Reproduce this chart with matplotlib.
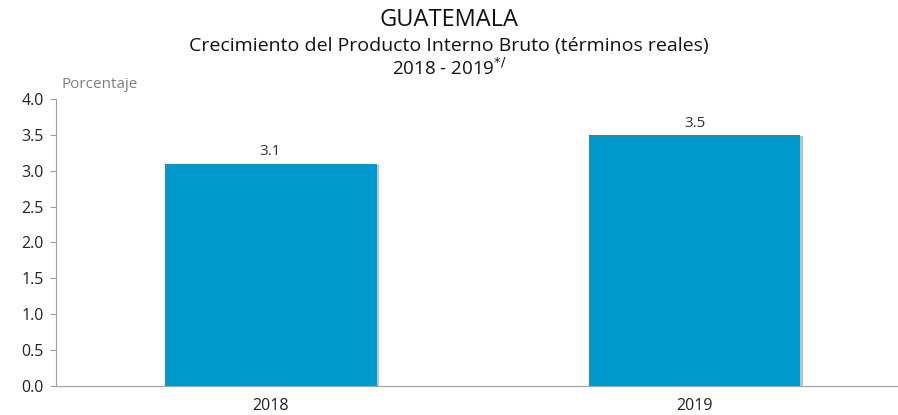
import matplotlib
matplotlib.use("Agg")
import matplotlib.pyplot as plt
import matplotlib.patheffects as pe

# Datos
years = ["2018", "2019"]
growth = [3.1, 3.5]
yticks = [0.0, 0.5, 1.0, 1.5, 2.0, 2.5, 3.0, 3.5, 4.0]

plt.rcParams['font.family'] = ['Open Sans', 'DejaVu Sans']

fig = plt.figure(figsize=(8.98, 4.15), dpi=100)
ax = fig.add_axes([0.0624, 0.07, 0.9376, 0.6915])

x = list(range(len(years)))
bars = ax.bar(x, growth, width=0.5, color="#0099CC", zorder=2)
for b in bars:
    b.set_path_effects([pe.SimplePatchShadow(offset=(2, -1), shadow_rgbFace="#999999", alpha=0.6),
                        pe.Normal()])

for xi, v in zip(x, growth):
    ax.text(xi, v + 0.06, f"{v:.1f}", ha="center", va="bottom", fontsize=11, color="#333333")

ax.set_xlim(-0.506, 1.48)
ax.set_ylim(0, 4.0)
ax.set_yticks(yticks)
ax.set_yticklabels([f"{t:.1f}" for t in yticks], fontsize=11.5, color="#222222")
ax.set_xticks(x)
ax.set_xticklabels(years, fontsize=11.5, color="#222222")

for s in ["top", "right"]:
    ax.spines[s].set_visible(False)
for s in ["left", "bottom"]:
    ax.spines[s].set_color("#a0a0a0")
ax.tick_params(axis="y", length=4, color="#a0a0a0", pad=5)
ax.tick_params(axis="x", length=0, pad=8.5)

fig.text(0.069, 0.797, "Porcentaje", fontsize=11, color="#7f7f7f", va="center")
fig.text(0.5, 0.953, "GUATEMALA", fontsize=17, ha="center", va="center", color="#111111")
fig.text(0.5, 0.888, "Crecimiento del Producto Interno Bruto (términos reales)",
         fontsize=14, ha="center", va="center", color="#111111")
fig.text(0.5, 0.835, r"2018 - 2019$^{*/}$", fontsize=13.5, ha="center", va="center", color="#111111")

fig.savefig("out.png", dpi=100)
